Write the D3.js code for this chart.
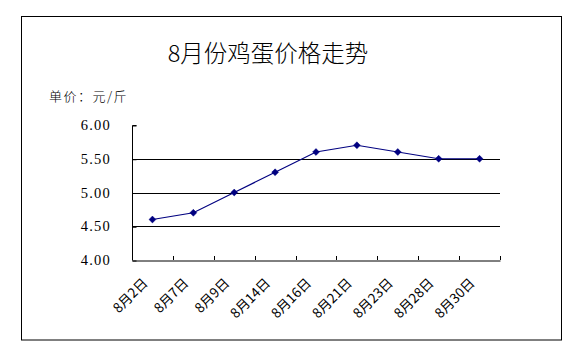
<!DOCTYPE html>
<html><head><meta charset="utf-8">
<script src="https://cdn.jsdelivr.net/npm/d3@7"></script>
<style>body{margin:0;background:#fff}svg{display:block}</style>
</head><body>
<script>
const categories = ["8月2日","8月7日","8月9日","8月14日","8月16日","8月21日","8月23日","8月28日","8月30日"];
const prices = [4.6, 4.7, 5.0, 5.3, 5.6, 5.7, 5.6, 5.5, 5.5];
const yTicks = [4.0, 4.5, 5.0, 5.5, 6.0];
const titleText = "8月份鸡蛋价格走势";
const unitText = "单价：元/斤";

const W = 572, H = 349;
const svg = d3.select("body").append("svg").attr("width", W).attr("height", H);
svg.append("rect").attr("x", 21.5).attr("y", 16.5).attr("width", 540).attr("height", 323.5)
  .attr("fill", "#fff").attr("stroke", "#000").attr("stroke-width", 1);

const cjk = "'Noto Sans CJK SC', sans-serif";
svg.append("text").attr("x", 268).attr("y", 62).attr("text-anchor", "middle")
  .attr("font-family", cjk).attr("font-weight", 300).attr("font-size", 23.5).attr("fill", "#000").text(titleText);
svg.append("text").attr("x", 49).attr("y", 101)
  .attr("font-family", cjk).attr("font-weight", 300).attr("font-size", 13).attr("letter-spacing", 1.5)
  .attr("fill", "#000").text(unitText);

const x = d3.scaleBand().domain(categories).range([132, 500]);
const y = d3.scaleLinear().domain([4, 6]).range([260, 125]);

// gridlines
svg.append("g").selectAll("line").data(yTicks.filter(v => v > 4 && v < 6)).join("line")
  .attr("x1", 132).attr("x2", 500)
  .attr("y1", d => Math.round(y(d)) + 0.5).attr("y2", d => Math.round(y(d)) + 0.5)
  .attr("stroke", "#000");

// y axis
const yAxis = svg.append("g").attr("transform", "translate(132.5,0.5)")
  .call(d3.axisRight(y).tickValues(yTicks).tickSize(4).tickFormat(""));
yAxis.selectAll("path,line").attr("stroke", "#000");
yAxis.select(".domain").attr("d", `M4,${y(6)}H0V${y(4)}`);
svg.append("g").selectAll("text").data(yTicks).join("text")
  .attr("x", 111).attr("y", d => y(d) + 5).attr("text-anchor", "end")
  .attr("font-family", "'Liberation Serif', 'DejaVu Serif', serif").attr("font-size", 14.5)
  .attr("letter-spacing", 1.2).attr("fill", "#000")
  .text(d => d.toFixed(2));

// x axis
const xAxis = svg.append("g").attr("transform", `translate(0,${Math.round(y(4)) + 0.5})`)
  .call(d3.axisTop(x).tickSize(4).tickSizeOuter(0).tickFormat(""));
xAxis.selectAll("path").attr("stroke", "#000");
xAxis.selectAll(".tick").remove();
const edges = d3.range(categories.length + 1).map(i => 132 + i * x.step());
svg.append("g").selectAll("line").data(edges.slice(1)).join("line")
  .attr("x1", d => Math.round(d) + 0.5).attr("x2", d => Math.round(d) + 0.5)
  .attr("y1", 256).attr("y2", 260).attr("stroke", "#000");

svg.append("g").selectAll("text").data(categories).join("text")
  .attr("transform", d => `translate(${x(d) + x.bandwidth() / 2 - 4},${284}) rotate(-45)`)
  .attr("text-anchor", "end")
  .attr("font-family", cjk).attr("font-size", 13.5).attr("fill", "#000")
  .text(d => d);

// line
const line = d3.line().x((d, i) => x(categories[i]) + x.bandwidth() / 2).y(d => y(d));
svg.append("path").datum(prices).attr("d", line)
  .attr("fill", "none").attr("stroke", "#000080").attr("stroke-width", 1.2);
svg.append("g").selectAll("path").data(prices).join("path")
  .attr("transform", (d, i) => `translate(${x(categories[i]) + x.bandwidth() / 2},${y(d)})`)
  .attr("d", d3.symbol(d3.symbolDiamond2, 30))
  .attr("fill", "#000080").attr("stroke", "#000080").attr("stroke-width", 0.5);
</script>
</body></html>
